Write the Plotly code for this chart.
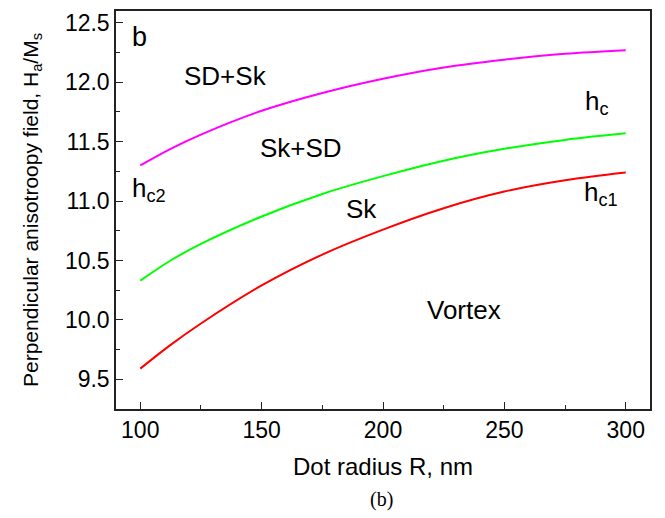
import plotly.graph_objects as go

R = [100, 112.5, 125, 150, 175, 200, 225, 250, 275, 300]
h_c2 = [11.30, 11.44, 11.56, 11.76, 11.91, 12.03, 12.125, 12.19, 12.24, 12.27]
h_c = [10.33, 10.50, 10.64, 10.87, 11.06, 11.21, 11.34, 11.44, 11.515, 11.57]
h_c1 = [9.59, 9.79, 9.97, 10.29, 10.55, 10.76, 10.94, 11.08, 11.175, 11.24]

x_ticks = [100, 150, 200, 250, 300]
y_ticks = [9.5, 10.0, 10.5, 11.0, 11.5, 12.0, 12.5]

FONT = "Liberation Sans, Arial, sans-serif"

fig = go.Figure()
for ys, col in [(h_c2, "#FF00FF"), (h_c, "#00FF00"), (h_c1, "#FF0000")]:
    fig.add_trace(go.Scatter(x=R, y=ys, mode="lines",
                             line=dict(color=col, width=2, shape="spline", smoothing=1.0),
                             showlegend=False, hoverinfo="skip"))

labels = [
    ("b", 99.8, 12.38, 27),
    ("SD+Sk", 135.3, 12.05, 26),
    ("Sk+SD", 166.1, 11.45, 26),
    ("Sk", 191.2, 10.93, 26),
    ("Vortex", 233.3, 10.08, 26),
    ("h<sub>c2</sub>", 103.7, 11.10, 26),
    ("h<sub>c</sub>", 288.0, 11.83, 26),
    ("h<sub>c1</sub>", 290.0, 11.06, 26),
]
for txt, x, y, s in labels:
    fig.add_annotation(x=x, y=y, text=txt, showarrow=False, xref="x", yref="y",
                       font=dict(family=FONT, size=s, color="black"))

fig.add_annotation(x=0.498, y=-0.228, xref="paper", yref="paper", text="(b)", showarrow=False,
                   xanchor="center", yanchor="middle",
                   font=dict(family="Liberation Serif, Times New Roman, serif", size=20, color="black"))

axis_common = dict(showline=True, linecolor="#222222", linewidth=1.5, mirror=True,
                   ticks="inside", ticklen=7, tickwidth=1.3, tickcolor="#222222",
                   showgrid=False, zeroline=False,
                   tickfont=dict(family=FONT, size=23, color="black"))

fig.update_xaxes(range=[90, 310], tickvals=x_ticks, ticktext=[str(v) for v in x_ticks],
                 minor=dict(ticks="inside", ticklen=4, tickwidth=1.3, tickcolor="#222222", dtick=25, tick0=0, showgrid=False),
                 title=dict(text="Dot radius R, nm", font=dict(family=FONT, size=24, color="black"), standoff=16),
                 **axis_common)
fig.update_yaxes(range=[9.25, 12.6], tickvals=y_ticks, ticktext=[f"{v:.1f}" for v in y_ticks],
                 minor=dict(ticks="inside", ticklen=4, tickwidth=1.3, tickcolor="#222222", dtick=0.25, tick0=0, showgrid=False),
                 title=dict(text="Perpendicular anisotroopy field, H<sub>a</sub>/M<sub>s</sub>",
                            font=dict(family=FONT, size=21, color="black"), standoff=21),
                 **axis_common)

fig.update_layout(width=665, height=518, margin=dict(l=116, r=15, t=11, b=109, pad=0, autoexpand=False),
                  plot_bgcolor="white", paper_bgcolor="white")

fig.write_html("out.html", config={"displayModeBar": False},
               post_script="document.body.style.margin='0';document.body.style.overflow='hidden';")
